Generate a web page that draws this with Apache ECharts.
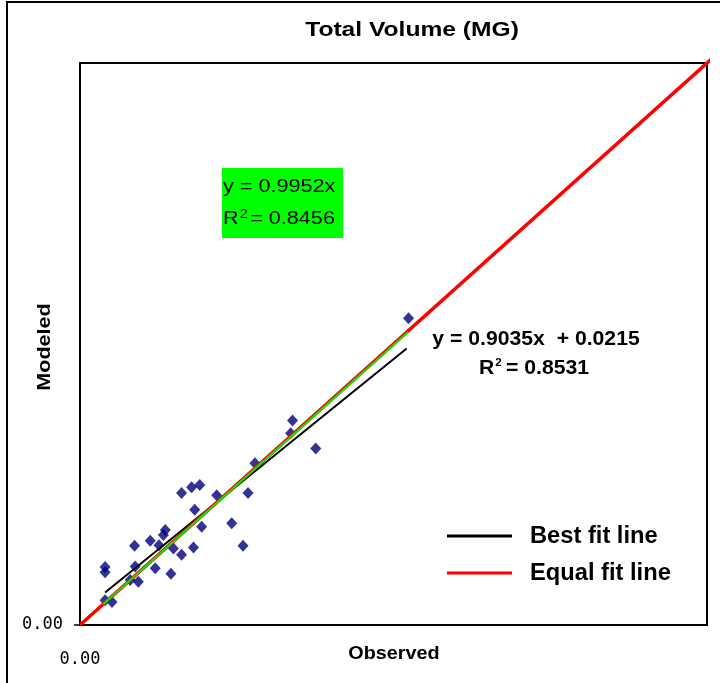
<!DOCTYPE html>
<html><head><meta charset="utf-8">
<script src="https://cdn.jsdelivr.net/npm/echarts@6/dist/echarts.min.js"></script>
<style>html,body{margin:0;padding:0;background:#fff}#c{width:720px;height:683px}</style>
</head><body><div id="c"></div>
<script>
const observed = [0.524,0.339,0.336,0.376,0.279,0.162,0.178,0.191,0.218,0.268,0.183,0.136,0.133,0.126,0.194,0.242,0.087,0.112,0.149,0.162,0.181,0.260,0.040,0.040,0.088,0.120,0.145,0.093,0.080,0.040,0.051];
const modeled  = [0.546,0.364,0.341,0.314,0.288,0.235,0.245,0.249,0.231,0.235,0.205,0.169,0.160,0.142,0.175,0.181,0.141,0.150,0.136,0.125,0.138,0.141,0.103,0.094,0.104,0.101,0.091,0.077,0.080,0.044,0.041];
const bestFitLine  = [[0.040,0.058],[0.521,0.492]];
const greenFitLine = [[0.037,0.037],[0.523,0.521]];
const equalFitLine = [[0,0],[1.008,1.008]];
const tickLabels = ['0.00'];

const chart = echarts.init(document.getElementById('c'));
const font = 'Liberation Sans, Arial, sans-serif';
const tickFont = 'DejaVu Sans Mono, monospace';
chart.setOption({
  animation:false,
  backgroundColor:'#fff',
  grid:{left:80,top:63,right:13,bottom:58,show:true,borderColor:'#000',borderWidth:2,backgroundColor:'transparent'},
  xAxis:{type:'value',min:0,max:1,interval:1,
    axisLine:{show:true,lineStyle:{color:'#000',width:2}},
    axisTick:{show:false},splitLine:{show:false},
    axisLabel:{margin:26,color:'#000',fontFamily:tickFont,fontSize:17,customValues:[0],formatter:v=>v===0?tickLabels[0]:''}},
  yAxis:{type:'value',min:0,max:1,interval:1,
    axisLine:{show:true,lineStyle:{color:'#000',width:2}},
    axisTick:{show:true,length:6,customValues:[0],lineStyle:{color:'#000',width:1.5}},splitLine:{show:false},
    axisLabel:{margin:17,color:'#000',fontFamily:tickFont,fontSize:17,customValues:[0],formatter:v=>v===0?tickLabels[0]:''}},
  series:[
    {type:'scatter',data:observed.map((x,i)=>[x,modeled[i]]),symbol:'diamond',symbolSize:[11,12],
      itemStyle:{color:'#00007a'},z:2},
    {type:'line',data:bestFitLine,showSymbol:false,lineStyle:{color:'#000',width:2},z:3},
    {type:'line',data:equalFitLine,showSymbol:false,clip:false,lineStyle:{color:'#ff0000',width:3.5},z:4},
    {type:'line',data:greenFitLine,showSymbol:false,lineStyle:{color:'#00ee00',width:2},z:5}
  ],
  graphic:[
    {type:'rect',shape:{x:7,y:2,width:730,height:700},style:{fill:'none',stroke:'#000',lineWidth:2},silent:true,z:-1},
    {type:'text',x:412,y:30,scaleX:1.23,style:{text:'Total Volume (MG)',font:'bold 20px '+font,fill:'#000',textAlign:'center',textVerticalAlign:'middle'}},
    {type:'text',x:394,y:654,scaleX:1.1,style:{text:'Observed',font:'bold 18px '+font,fill:'#000',textAlign:'center',textVerticalAlign:'middle'}},
    {type:'text',x:45,y:347,rotation:Math.PI/2,scaleX:1.2,style:{text:'Modeled',font:'bold 18px '+font,fill:'#000',textAlign:'center',textVerticalAlign:'middle'}},
    {type:'rect',shape:{x:222,y:168,width:121,height:70},style:{fill:'#00ff00'},z:10},
    {type:'text',x:223,y:187,scaleX:1.2,z:11,style:{text:'y = 0.9952x',font:'18px '+font,fill:'#000',textVerticalAlign:'middle'}},
    {type:'text',x:223,y:219,scaleX:1.2,z:11,style:{rich:{a:{font:'18px '+font,fill:'#000'},s:{font:'12px '+font,fill:'#000',padding:[0,2,9,1]}},text:'{a|R}{s|2}{a|= 0.8456}',textVerticalAlign:'middle'}},
    {type:'text',x:536,y:339,scaleX:1.06,z:11,style:{text:'y = 0.9035x  + 0.0215',font:'bold 20px '+font,fill:'#000',textAlign:'center',textVerticalAlign:'middle'}},
    {type:'text',x:534,y:368,scaleX:1.06,z:11,style:{rich:{a:{font:'bold 20px '+font,fill:'#000'},s:{font:'bold 11px '+font,fill:'#000',padding:[0,4,10,1]}},text:'{a|R}{s|2}{a|= 0.8531}',textAlign:'center',textVerticalAlign:'middle'}},
    {type:'line',shape:{x1:447,y1:536,x2:512,y2:536},style:{stroke:'#000',lineWidth:3},z:11},
    {type:'line',shape:{x1:447,y1:573,x2:512,y2:573},style:{stroke:'#ff0000',lineWidth:3},z:11},
    {type:'text',x:530,y:537,scaleX:1.03,z:11,style:{text:'Best fit line',font:'bold 23px '+font,fill:'#000',textVerticalAlign:'middle'}},
    {type:'text',x:530,y:574,scaleX:1.03,z:11,style:{text:'Equal fit line',font:'bold 23px '+font,fill:'#000',textVerticalAlign:'middle'}}
  ]
});
</script></body></html>
